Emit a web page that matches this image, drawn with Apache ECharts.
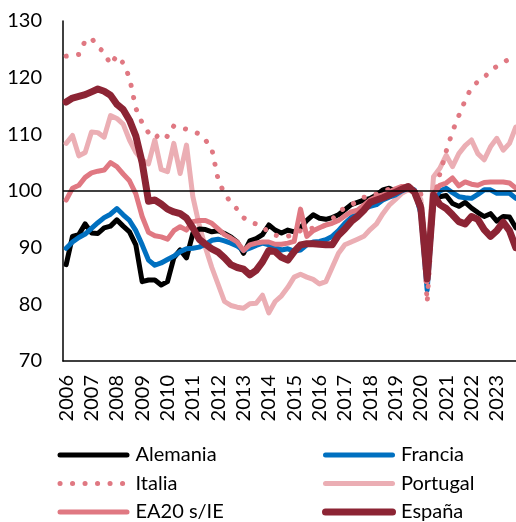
<!DOCTYPE html>
<html>
<head>
<meta charset="utf-8">
<script src="https://cdn.jsdelivr.net/npm/echarts@6/dist/echarts.min.js"></script>
<style>
  html, body { margin: 0; padding: 0; background: #ffffff; }
  #chart { width: 516px; height: 522px; }
</style>
</head>
<body>
<div id="chart"></div>
<script>
// Quarterly index, 2019 = 100
const years = ['2006','2007','2008','2009','2010','2011','2012','2013','2014',
               '2015','2016','2017','2018','2019','2020','2021','2022','2023'];
const quarters = years.flatMap(y => ['T1','T2','T3','T4'].map(q => y + ' ' + q));

const alemania = [
  87, 92, 92.3, 94.2, 92.6, 92.5, 93.5, 93.8, 94.9, 93.8, 92.8, 90.5,
  84, 84.3, 84.3, 83.4, 84, 88.2, 89.6, 88.2, 92.5, 93.3, 93.2, 92.8,
  93, 92.5, 91.9, 91, 89, 91.2, 91.6, 92.3, 94, 93.1, 92.6, 93.1,
  92.8, 93.5, 94.8, 95.8, 95.2, 95, 95.3, 95.8, 96.7, 97.6, 98, 98.4,
  98.7, 99.3, 100.2, 100.5, 100, 100.3, 100.5, 100, 97.5, 87, 98, 99,
  99.2, 97.8, 97.3, 98, 97, 96.2, 95.5, 96, 94.7, 95.5, 95.4, 93.5
];
const francia = [
  89.9, 91, 91.8, 92.4, 93.4, 94.4, 95.3, 95.9, 96.9, 95.8, 94.8, 93,
  90.5, 87.8, 86.9, 87.3, 87.9, 88.5, 89.3, 89.8, 89.9, 90.1, 90.6, 91.3,
  91.5, 91.2, 90.8, 90.3, 89.5, 89.9, 90.4, 90.8, 90.5, 90, 89.6, 89.8,
  89.4, 89.6, 90.5, 91, 91.1, 91.4, 92, 93, 94.3, 95.3, 96.1, 96.8,
  97.3, 97.6, 98.4, 98.9, 99.3, 100, 100.5, 100.2, 96, 82.5, 98.5, 100,
  100.5, 99.7, 99, 98.8, 98.7, 99.4, 100.2, 100.2, 99.6, 99.6, 99.6, 98.7
];
const italia = [
  123.8, 123.9, 124.1, 126.5, 127, 125.4, 124.5, 122.3, 123.9, 122.6, 120, 114.6,
  112, 110.3, 109.3, 110.3, 109.6, 111.5, 111.2, 110.9, 110.5, 110.1, 109, 107.4,
  102, 99.5, 98, 96.8, 95.3, 94.5, 94.2, 93.8, 92.6, 92.2, 92, 92,
  92.5, 93, 93, 93.5, 93.5, 94, 95, 96.3, 97, 97.5, 98.3, 98.9,
  99, 99.5, 100, 100.3, 100, 100.5, 101, 100, 99.5, 80.3, 98, 103,
  107, 110.5, 113.3, 116, 118.3, 119.3, 120, 121.3, 122, 122.7, 123.3, 124
];
const portugal = [
  108.4, 109.8, 106.2, 106.8, 110.4, 110.3, 109.5, 113.3, 112.8, 111.8, 109, 106.8,
  105.5, 104.8, 109, 103.8, 103.4, 108.4, 103.1, 108.1, 99, 94, 90, 86.5,
  83.5, 80.5, 79.8, 79.5, 79.3, 80.1, 80.2, 81.6, 78.5, 80.5, 81.5, 83,
  84.8, 85.3, 84.8, 84.4, 83.6, 84, 86.5, 89, 90.5, 91, 91.5, 92,
  93.2, 94.2, 96, 97.5, 98.5, 99.6, 100.2, 99.8, 98.5, 88, 102.5, 104,
  106.3, 104.3, 106.6, 108, 109, 106.6, 105.5, 107.8, 109.3, 107.2, 108.4, 111.3
];
const ea20 = [
  98.4, 100.5, 101, 102.4, 103.2, 103.5, 103.7, 105, 104.3, 103, 101.8, 99.5,
  95.5, 92.7, 92.1, 91.9, 91.5, 93, 93.7, 93.1, 94.6, 94.8, 94.8, 94.3,
  93.3, 92.3, 91.7, 91, 89.5, 90.5, 90.8, 91, 91, 90.6, 90.6, 90.8,
  91.1, 96.8, 92, 93, 93.5, 94, 94.3, 94.8, 95.6, 96.3, 96.6, 97.5,
  98.4, 99, 99.3, 99.8, 100.4, 100.8, 100.8, 100, 97, 84, 99.5, 101,
  101.4, 102.3, 100.9, 101.6, 101.2, 101, 101.5, 101.6, 101.6, 101.6, 101.4, 100.5
];
const espana = [
  115.7, 116.4, 116.7, 117, 117.5, 118, 117.6, 116.9, 115.3, 114.4, 112.5, 109.7,
  105, 98.2, 98.4, 97.7, 96.8, 96.3, 96, 95.2, 93.5, 91.5, 90.6, 89.8,
  89.2, 88.2, 87, 86.5, 86.2, 85.2, 86, 87.5, 89.5, 89.3, 88.3, 87.8,
  89.3, 90.5, 90.7, 90.7, 90.6, 90.5, 90.5, 92.2, 93.3, 94.6, 95.5, 96.6,
  98, 98.4, 98.8, 99.3, 99.8, 100.3, 100.8, 99.8, 97, 84.5, 99.3, 97.6,
  96.9, 95.8, 94.6, 94.2, 95.5, 95, 93.2, 92, 93, 94.5, 93, 90
];

const referenceLevel = 100;
const yTicks = { min: 70, max: 130, step: 10 };

const FONT = 'Lato, "DejaVu Sans", sans-serif';
const TEXT = { fontFamily: FONT, fontSize: 20, color: '#000000' };

function line(name, data, color, width, extra) {
  return Object.assign({
    name: name,
    type: 'line',
    data: data,
    showSymbol: false,
    symbol: 'none',
    silent: true,
    lineStyle: { color: color, width: width, join: 'round', cap: 'round' },
    itemStyle: { color: color },
    emphasis: { disabled: true },
    z: 2
  }, extra || {});
}

const chart = echarts.init(document.getElementById('chart'), null, { renderer: 'canvas' });

// legend keys are plain line swatches (no marker dot)
const legendBase = {
  orient: 'vertical',
  top: 445,
  padding: 0,
  itemWidth: 67,
  itemHeight: 8,
  itemGap: 8.5,
  selectedMode: false,
  textStyle: Object.assign({ lineHeight: 20, padding: [0, 0, 0, 3.5] }, TEXT),
  itemStyle: { opacity: 0, borderWidth: 0 },
  lineStyle: { width: 'inherit' }
};

chart.setOption({
  animation: false,
  backgroundColor: '#ffffff',
  grid: { left: 63, top: 21, width: 456, height: 340, outerBoundsMode: 'none', containLabel: false },
  xAxis: {
    type: 'category',
    data: quarters,
    boundaryGap: true,
    axisLine: { show: true, lineStyle: { color: '#000000', width: 1.5 } },
    axisTick: { show: false },
    splitLine: { show: false },
    axisLabel: Object.assign({
      interval: 3,
      rotate: 90,
      margin: 14,
      formatter: v => v.slice(0, 4)
    }, TEXT)
  },
  yAxis: {
    type: 'value',
    min: yTicks.min,
    max: yTicks.max,
    interval: yTicks.step,
    axisLine: { show: true, lineStyle: { color: '#000000', width: 1.5 } },
    axisTick: { show: false },
    splitLine: { show: false },
    axisLabel: Object.assign({ margin: 21 }, TEXT)
  },
  legend: [
    Object.assign({ left: 57.5, data: ['Alemania', 'Italia', 'EA20 s/IE'] }, legendBase),
    Object.assign({ left: 322, data: ['Francia', 'Portugal', 'España'] }, legendBase)
  ],
  series: [
    {
      name: 'ref',
      type: 'line',
      data: quarters.map(() => null),
      silent: true,
      z: 1,
      markLine: {
        silent: true,
        symbol: 'none',
        label: { show: false },
        lineStyle: { color: '#000000', width: 1.5, type: 'solid' },
        data: [{ yAxis: referenceLevel }]
      }
    },
    line('Portugal', portugal, '#EBAEB4', 5),
    line('Alemania', alemania, '#000000', 5),
    line('Francia', francia, '#0070C0', 5),
    line('EA20 s/IE', ea20, '#E07882', 5),
    line('Italia', italia, '#E07882', 5, {
      lineStyle: { color: '#E07882', width: 5, type: [0.1, 12.4], cap: 'round', join: 'round' }
    }),
    line('España', espana, '#8C2434', 7)
  ]
});
</script>
</body>
</html>
